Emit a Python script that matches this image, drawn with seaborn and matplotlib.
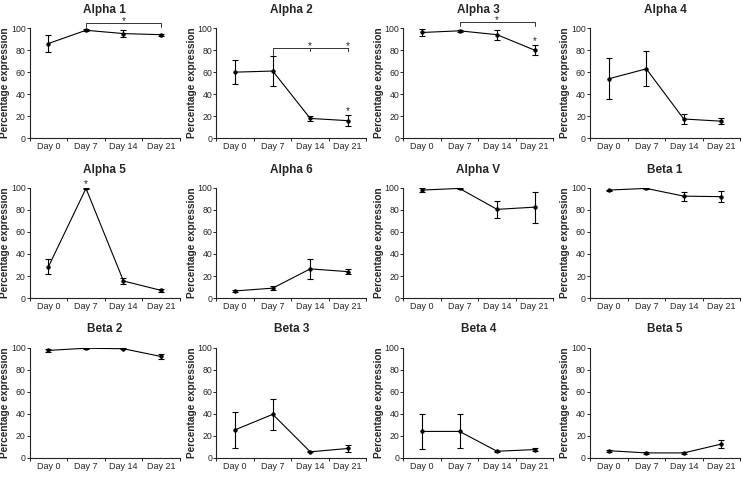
import numpy as np
import pandas as pd
import matplotlib.pyplot as plt
from matplotlib.ticker import FixedLocator
import seaborn as sns

# --- data ---
days = ['Day 0', 'Day 7', 'Day 14', 'Day 21']
panel_names = ['Alpha 1', 'Alpha 2', 'Alpha 3', 'Alpha 4',
               'Alpha 5', 'Alpha 6', 'Alpha V', 'Beta 1',
               'Beta 2', 'Beta 3', 'Beta 4', 'Beta 5']

mean_values = [
    [86, 98, 95, 94],
    [60, 61, 18, 16],
    [96, 97.5, 94, 80],
    [54, 63, 17.5, 15.5],
    [28.5, 99.5, 15.5, 7],
    [6.5, 9, 26.5, 24],
    [98, 99.5, 80.5, 82.5],
    [98, 99.5, 92.5, 92],
    [97.5, 99.5, 99, 92],
    [25.5, 39.5, 5.5, 8.5],
    [24, 24, 6, 7.5],
    [6.5, 4.5, 4.5, 12.5],
]
err_values = [
    [7.5, 0.8, 3, 1],
    [11, 14, 2, 5],
    [3, 0.8, 4.5, 4.5],
    [18.5, 16, 4.5, 2.5],
    [7, 0.5, 2.5, 1.2],
    [0.8, 2, 9, 2],
    [2, 0.5, 7.5, 14],
    [0.5, 0.5, 4, 5],
    [1, 0.3, 0.5, 2.5],
    [16.5, 14, 0.5, 3],
    [16, 15.5, 0.5, 1],
    [1, 0.8, 0.8, 4],
]

# significance brackets: (panel, from day, to day, bar height, drop heights, star days)
brackets = [
    ('Alpha 1', 'Day 7', 'Day 21', 105, [101, 101], ['Day 14']),
    ('Alpha 2', 'Day 7', 'Day 21', 82, [76, 79], ['Day 14', 'Day 21']),
    ('Alpha 3', 'Day 7', 'Day 21', 105.5, [102, 102], ['Day 14']),
]
# single stars above points: (panel, day, height)
point_stars = [
    ('Alpha 2', 'Day 21', 25),
    ('Alpha 3', 'Day 21', 88),
    ('Alpha 5', 'Day 7', 103),
]

sns.set_style('ticks')
plt.rcParams['font.family'] = ['Liberation Sans', 'DejaVu Sans']

fig, axes = plt.subplots(3, 4, figsize=(7.43, 4.84), dpi=100)
fig.subplots_adjust(left=0.040, right=0.996, top=0.942, bottom=0.054,
                    wspace=0.245, hspace=0.45)

for ax, name, means, errs in zip(axes.flat, panel_names, mean_values, err_values):
    df = pd.DataFrame({'day': days, 'value': means})
    sns.pointplot(data=df, x='day', y='value', order=days, color='black',
                  markers='o', markersize=2.5, linewidth=0.8, errorbar=None, ax=ax)
    ax.errorbar(np.arange(len(days)), means, yerr=errs, fmt='none',
                ecolor='black', elinewidth=0.8, capsize=2.2, capthick=0.8)

    ax.set_xlim(-0.5, 3.5)
    ax.set_ylim(0, 100)
    ax.set_yticks([0, 20, 40, 60, 80, 100])
    ax.xaxis.set_minor_locator(FixedLocator(np.arange(-0.5, 4, 1)))
    ax.tick_params(axis='x', which='major', length=0, labelsize=6.5, pad=3)
    ax.tick_params(axis='x', which='minor', length=2, width=0.7)
    ax.tick_params(axis='y', length=2, width=0.7, labelsize=6.3, pad=1)
    ax.set_xlabel('')
    ax.set_ylabel('Percentage expression', fontsize=7.3, fontweight='bold', labelpad=0.5)
    ax.set_title(name, fontsize=8.5, fontweight='bold', pad=11)
    for sp in ['left', 'bottom']:
        ax.spines[sp].set_linewidth(0.8)
        ax.spines[sp].set_color('#222222')
    sns.despine(ax=ax)

# brackets and stars
ax_of = dict(zip(panel_names, axes.flat))
for name, d0, d1, h, drops, star_days in brackets:
    ax = ax_of[name]
    x0, x1 = days.index(d0), days.index(d1)
    ax.plot([x0, x0, x1, x1], [drops[0], h, h, drops[1]], color='#333333',
            lw=0.7, clip_on=False)
    for sd in star_days:
        xs = days.index(sd)
        if name == 'Alpha 2':
            ax.plot([xs, xs], [h, h - 2.5], color='#333333', lw=0.7, clip_on=False)
        ax.text(xs, h + 1.5, '*', ha='center', va='center', fontsize=7, clip_on=False)

for name, d, h in point_stars:
    ax = ax_of[name]
    ax.text(days.index(d), h, '*', ha='center', va='center', fontsize=7, clip_on=False)

plt.savefig('out.png', dpi=100)
